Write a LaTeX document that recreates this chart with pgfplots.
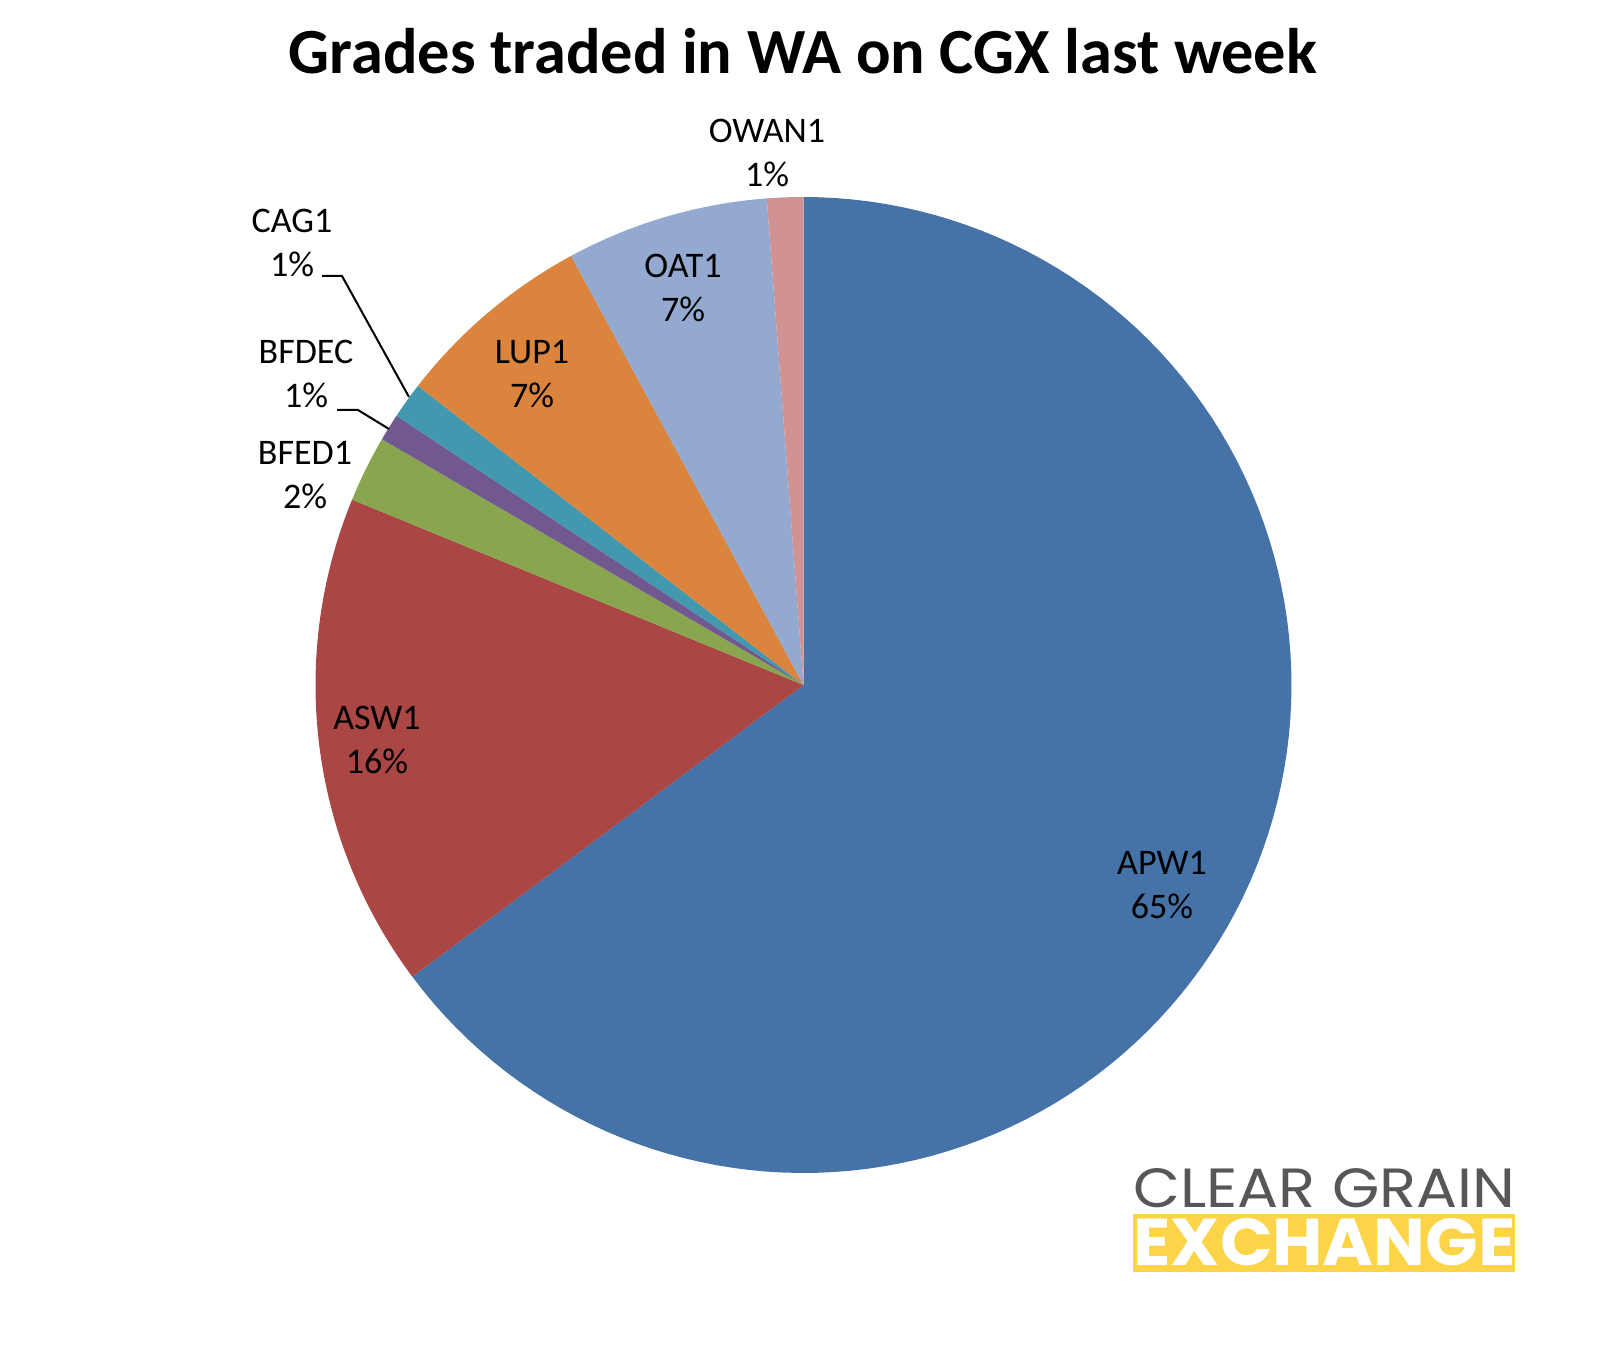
\documentclass[border=0pt]{standalone}
\usepackage{pgfplots}
\pgfplotsset{compat=1.18}
\usepackage{pgfplotstable}
\usepackage{graphicx}
\usepackage{fontspec}
\setmainfont{Carlito}
\newfontfamily\logofont{Poppins}

\definecolor{c0}{HTML}{4572A7}
\definecolor{c1}{HTML}{AA4643}
\definecolor{c2}{HTML}{89A54E}
\definecolor{c3}{HTML}{71588F}
\definecolor{c4}{HTML}{4198AF}
\definecolor{c5}{HTML}{DB843D}
\definecolor{c6}{HTML}{93A9CF}
\definecolor{c7}{HTML}{D19392}
\definecolor{logogray}{HTML}{575757}
\definecolor{logoyellow}{HTML}{FCD447}

% share of trades per grade, clockwise from 12 o'clock
\pgfplotstableread{
grade value
APW1  64.8
ASW1  16.4
BFED1 2.2
BFDEC 0.9
CAG1  1.2
LUP1  6.6
OAT1  6.7
OWAN1 1.2
}\grades

% slice angles
\def\total{0}
\pgfplotsforeachungrouped \i in {0,...,7}{%
  \pgfplotstablegetelem{\i}{value}\of\grades
  \pgfmathsetmacro\total{\total+\pgfplotsretval}%
}
\def\cum{0}
\pgfplotsforeachungrouped \i in {0,...,7}{%
  \pgfplotstablegetelem{\i}{value}\of\grades
  \pgfmathsetmacro\start{90-\cum/\total*360}%
  \pgfmathsetmacro\cum{\cum+\pgfplotsretval}%
  \pgfmathsetmacro\stop{90-\cum/\total*360}%
  \expandafter\xdef\csname sa\i\endcsname{\start}%
  \expandafter\xdef\csname ea\i\endcsname{\stop}%
}

\newcommand\lab[4]{%
  \node[font=\fontsize{18}{20}\selectfont, anchor=base, inner sep=0] at (#1,#2+12) {#3};
  \node[font=\fontsize{18}{20}\selectfont, anchor=base, inner sep=0] at (#1,#2+56) {#4};
}

\begin{document}
\begin{tikzpicture}
\useasboundingbox (0,0) rectangle (804pt,-676pt);
\begin{axis}[
  at={(401.75pt,-342.5pt)}, anchor=center,
  scale only axis, width=488pt, height=488pt,
  xmin=-1, xmax=1, ymin=-1, ymax=1,
  axis lines=none, clip=false,
]
\pgfplotsinvokeforeach{0,...,7}{
  \fill[c#1] (axis cs:0,0) -- plot[domain=\csname ea#1\endcsname:\csname sa#1\endcsname, samples=120, variable=\t] ({cos(\t)},{sin(\t)}) -- cycle;
}
\end{axis}
\begin{scope}[x=0.5pt, y=-0.5pt]
\node[font=\fontsize{32.2}{36}\selectfont\bfseries, anchor=base, inner sep=0] at (803,74) {Grades traded in WA on CGX last week};
\lab{1162}{863}{APW1}{65\%}
\lab{377}{718}{ASW1}{16\%}
\lab{305}{453}{BFED1}{2\%}
\lab{306}{352}{BFDEC}{1\%}
\lab{292}{221}{CAG1}{1\%}
\lab{532}{352}{LUP1}{7\%}
\lab{683}{266}{OAT1}{7\%}
\lab{767}{131}{OWAN1}{1\%}
\draw[line width=1pt] (322,276) -- (342,276) -- (409,397);
\draw[line width=1pt] (337,410) -- (358,410) -- (389,429);
\node[anchor=north west, inner sep=0, text=logogray] at (1133,1168) {\resizebox{191pt}{19.5pt}{\logofont CLEAR GRAIN}};
\fill[logoyellow] (1133,1214) rectangle (1515,1272);
\node[anchor=north west, inner sep=0, text=white] at (1133,1218) {\resizebox{191pt}{23.5pt}{\logofont\bfseries EXCHANGE}};
\end{scope}
\end{tikzpicture}
\end{document}
